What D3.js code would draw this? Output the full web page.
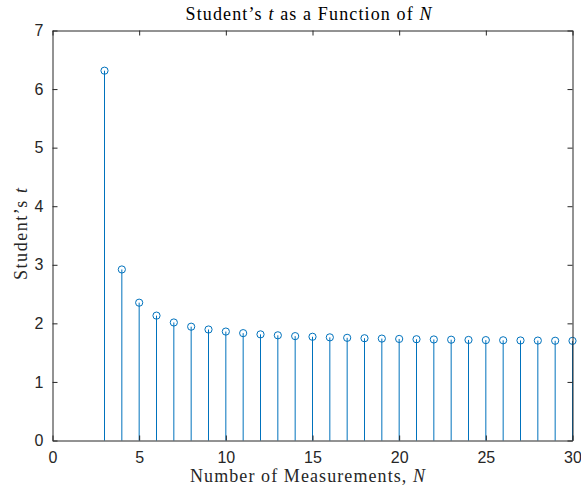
<!DOCTYPE html>
<html><head><meta charset="utf-8">
<script src="https://cdn.jsdelivr.net/npm/d3@7"></script>
<style>body{margin:0;background:#fff}</style>
</head><body>
<script>
const N = [3,4,5,6,7,8,9,10,11,12,13,14,15,16,17,18,19,20,21,22,23,24,25,26,27,28,29,30];
const tVals = [6.314,2.920,2.353,2.132,2.015,1.943,1.895,1.860,1.833,1.812,1.796,1.782,1.771,1.761,1.753,1.746,1.740,1.734,1.729,1.725,1.721,1.717,1.714,1.711,1.708,1.706,1.703,1.701];
const xTicks = [0,5,10,15,20,25,30];
const yTicks = [0,1,2,3,4,5,6,7];

const W=581,H=489;
const svg=d3.select("body").append("svg").attr("width",W).attr("height",H);
const L=52.5,R=572.5,T=30.5,B=440.5;
const x=d3.scaleLinear().domain([0,30]).range([L,R]);
const y=d3.scaleLinear().domain([0,7]).range([B,T]);
const axCol="#262626";
const tickFont="'Liberation Sans',Arial,sans-serif";
const serif="'Liberation Serif','DejaVu Serif',serif";
const blue="#0072BD";

// stems
svg.append("g").selectAll("line").data(N).join("line")
  .attr("x1",d=>x(d)).attr("x2",d=>x(d))
  .attr("y1",y(0)).attr("y2",(d,i)=>y(tVals[i]))
  .attr("stroke",blue).attr("stroke-width",1);
svg.append("g").selectAll("circle").data(N).join("circle")
  .attr("cx",d=>x(d)).attr("cy",(d,i)=>y(tVals[i])).attr("r",3.6)
  .attr("fill","none").attr("stroke",blue).attr("stroke-width",1);

// axes
const fmt=d3.format("d");
const gx=svg.append("g").attr("transform",`translate(0,${B})`)
  .call(d3.axisBottom(x).tickValues(xTicks).tickFormat(fmt).tickSizeInner(-5).tickSizeOuter(0).tickPadding(11));
const gxt=svg.append("g").attr("transform",`translate(0,${T})`)
  .call(d3.axisTop(x).tickValues(xTicks).tickSizeInner(-5).tickSizeOuter(0).tickFormat(""));
const gy=svg.append("g").attr("transform",`translate(${L},0)`)
  .call(d3.axisLeft(y).tickValues(yTicks).tickFormat(fmt).tickSizeInner(-5).tickSizeOuter(0).tickPadding(9));
const gyr=svg.append("g").attr("transform",`translate(${R},0)`)
  .call(d3.axisRight(y).tickValues(yTicks).tickSizeInner(-5).tickSizeOuter(0).tickFormat(""));
[gx,gxt,gy,gyr].forEach(g=>{
  g.selectAll("path,line").attr("stroke",axCol);
  g.selectAll("text").attr("fill",axCol).style("font-family",tickFont).style("font-size","16px");
});

// title
const title=svg.append("text").attr("x",308.5).attr("y",20).attr("text-anchor","middle")
  .attr("textLength",246).attr("lengthAdjust","spacing")
  .style("font-family",serif).style("font-size","18px").attr("fill","#000");
title.append("tspan").text("Student’s ");
title.append("tspan").attr("font-style","italic").text("t");
title.append("tspan").text(" as a Function of ");
title.append("tspan").attr("font-style","italic").text("N");

const xl=svg.append("text").attr("x",307.5).attr("y",482).attr("text-anchor","middle")
  .attr("textLength",235).attr("lengthAdjust","spacing")
  .style("font-family",serif).style("font-size","18px").attr("fill","#262626");
xl.append("tspan").text("Number of Measurements, ");
xl.append("tspan").attr("font-style","italic").text("N");

const yl=svg.append("text").attr("transform",`translate(27,234) rotate(-90)`).attr("text-anchor","middle")
  .attr("textLength",92).attr("lengthAdjust","spacing")
  .style("font-family",serif).style("font-size","18px").attr("fill","#262626");
yl.append("tspan").text("Student’s ");
yl.append("tspan").attr("font-style","italic").text("t");
</script>
</body></html>
